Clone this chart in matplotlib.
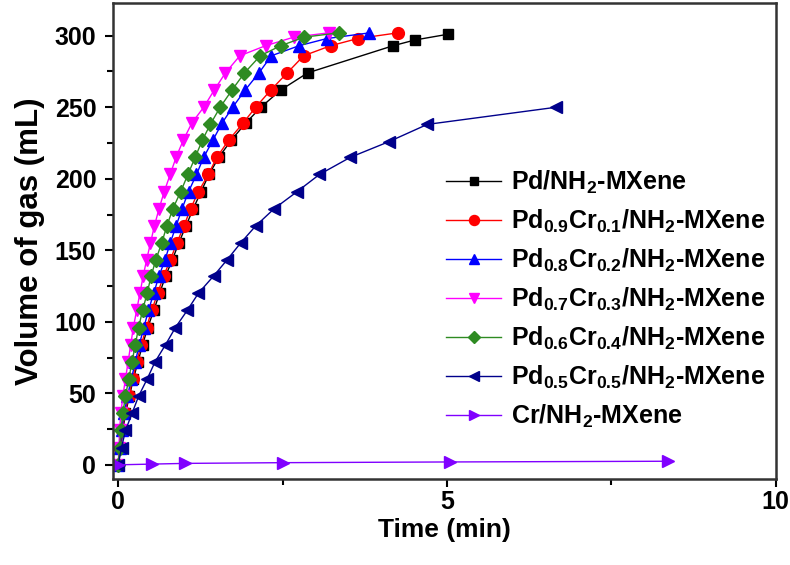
import matplotlib
matplotlib.use("Agg")
import matplotlib.pyplot as plt
from matplotlib.ticker import MultipleLocator

plt.rcParams['font.family'] = ['Liberation Sans', 'DejaVu Sans']
plt.rcParams['font.weight'] = 'bold'
plt.rcParams['mathtext.fontset'] = 'custom'
plt.rcParams['mathtext.rm'] = 'Liberation Sans:bold'
plt.rcParams['mathtext.it'] = 'Liberation Sans:bold'
plt.rcParams['mathtext.bf'] = 'Liberation Sans:bold'
plt.rcParams['mathtext.default'] = 'rm'

# Pd/NH2-MXene
t_pd = [0, 0.04, 0.07, 0.11, 0.17, 0.23, 0.30, 0.37, 0.45, 0.54, 0.63, 0.72, 0.82, 0.92,
        1.03, 1.14, 1.26, 1.38, 1.53, 1.72, 1.94, 2.17, 2.47, 2.88, 4.18, 4.51, 5.01]
v_pd = [0, 12, 24, 36, 48, 60, 72, 84, 96, 108, 120, 132, 143, 155,
        167, 179, 191, 203, 215, 227, 239, 250, 262, 274, 293, 297, 301]

# Pd0.9Cr0.1/NH2-MXene
t_91 = [0, 0.03, 0.06, 0.10, 0.16, 0.22, 0.28, 0.35, 0.43, 0.51, 0.60, 0.69, 0.79, 0.89,
        1.00, 1.10, 1.22, 1.37, 1.50, 1.68, 1.90, 2.09, 2.32, 2.57, 2.82, 3.23, 3.64, 4.25]
v_91 = [0, 12, 24, 36, 48, 60, 72, 84, 96, 108, 120, 132, 143, 155,
        167, 179, 191, 203, 215, 227, 239, 250, 262, 274, 286, 293, 298, 302]

# Pd0.8Cr0.2/NH2-MXene
t_82 = [0, 0.03, 0.05, 0.09, 0.14, 0.20, 0.26, 0.32, 0.39, 0.46, 0.54, 0.62, 0.71, 0.79,
        0.88, 0.97, 1.07, 1.19, 1.30, 1.44, 1.58, 1.74, 1.93, 2.14, 2.33, 2.75, 3.17, 3.82]
v_82 = [0, 12, 24, 36, 48, 60, 72, 84, 96, 108, 120, 132, 143, 155,
        167, 179, 191, 203, 215, 227, 239, 250, 262, 274, 286, 293, 298, 302]

# Pd0.7Cr0.3/NH2-MXene
t_73 = [0, 0.01, 0.02, 0.04, 0.07, 0.11, 0.15, 0.19, 0.23, 0.28, 0.33, 0.38, 0.43, 0.49,
        0.55, 0.62, 0.70, 0.79, 0.88, 0.99, 1.12, 1.30, 1.46, 1.63, 1.85, 2.24, 2.67, 3.20]
v_73 = [0, 12, 24, 36, 48, 60, 72, 84, 96, 108, 120, 132, 143, 155,
        167, 179, 191, 203, 215, 227, 239, 250, 262, 274, 286, 293, 299, 302]

# Pd0.6Cr0.4/NH2-MXene
t_64 = [0, 0.02, 0.04, 0.07, 0.11, 0.16, 0.21, 0.26, 0.31, 0.37, 0.44, 0.50, 0.57, 0.66,
        0.74, 0.83, 0.95, 1.06, 1.17, 1.28, 1.40, 1.55, 1.73, 1.92, 2.16, 2.47, 2.83, 3.35]
v_64 = [0, 12, 24, 36, 48, 60, 72, 84, 96, 108, 120, 132, 143, 155,
        167, 179, 191, 203, 215, 227, 238, 250, 262, 274, 286, 293, 299, 302]

# Pd0.5Cr0.5/NH2-MXene
t_55 = [0, 0.05, 0.11, 0.21, 0.31, 0.44, 0.56, 0.72, 0.87, 1.05, 1.22, 1.45, 1.65, 1.86,
        2.09, 2.37, 2.72, 3.06, 3.53, 4.12, 4.70, 6.66]
v_55 = [0, 12, 24, 36, 48, 60, 72, 84, 96, 108, 120, 132, 143, 155,
        167, 179, 191, 203, 215, 226, 238, 250]

# Cr/NH2-MXene
t_cr = [0, 0.51, 1.02, 2.50, 5.04, 8.36]
v_cr = [0, 0.5, 1.0, 1.5, 2.0, 2.5]

labels = [
    r'Pd/NH$_2$-MXene',
    r'Pd$_{0.9}$Cr$_{0.1}$/NH$_2$-MXene',
    r'Pd$_{0.8}$Cr$_{0.2}$/NH$_2$-MXene',
    r'Pd$_{0.7}$Cr$_{0.3}$/NH$_2$-MXene',
    r'Pd$_{0.6}$Cr$_{0.4}$/NH$_2$-MXene',
    r'Pd$_{0.5}$Cr$_{0.5}$/NH$_2$-MXene',
    r'Cr/NH$_2$-MXene',
]

series = [(t_pd, v_pd), (t_91, v_91), (t_82, v_82), (t_73, v_73),
          (t_64, v_64), (t_55, v_55), (t_cr, v_cr)]
colors = ['#000000', '#FF0000', '#0000FF', '#FF00FF', '#2E8B22', '#00008B', '#8000FF']
markers = ['s', 'o', '^', 'v', 'D', '<', '>']
msizes = [7.5, 8.5, 8.5, 8.5, 7.5, 8.5, 8.5]

fig = plt.figure(figsize=(7.9, 5.65), dpi=100)
ax = fig.add_axes([0.143, 0.152, 0.839, 0.843])

for (t, v), c, m, ms, lab in zip(series, colors, markers, msizes, labels):
    ax.plot(t, v, color=c, lw=1.0, marker=m, ms=ms, mec=c, mfc=c, label=lab)

ax.set_xlim(-0.08, 10)
ax.set_ylim(-10, 323)
ax.xaxis.set_major_locator(MultipleLocator(5))
ax.xaxis.set_minor_locator(MultipleLocator(2.5))
ax.yaxis.set_major_locator(MultipleLocator(50))
ax.yaxis.set_minor_locator(MultipleLocator(25))
ax.tick_params(which='major', direction='out', length=6, width=1.5, labelsize=18, pad=6)
ax.tick_params(axis='x', which='major', pad=2)
ax.tick_params(which='minor', direction='out', length=4, width=1.5)
for s in ax.spines.values():
    s.set_linewidth(1.8)
    s.set_color('#333333')

ax.set_xlabel('Time (min)', fontsize=19, fontweight='bold', labelpad=3)
ax.set_ylabel('Volume of gas (mL)', fontsize=22.5, fontweight='bold', labelpad=7)

ax.legend(loc='upper left', bbox_to_anchor=(0.484, 0.678), frameon=False,
          fontsize=18, handlelength=2.2, handletextpad=0.4, labelspacing=0.47,
          borderpad=0, markerscale=0.85)

fig.savefig('out.png', dpi=100)
